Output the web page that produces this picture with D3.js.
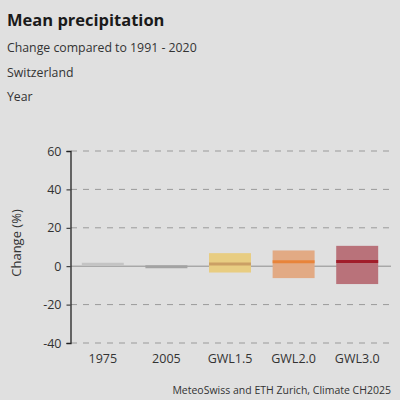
<!DOCTYPE html>
<html>
<head>
<meta charset="utf-8">
<script src="https://cdn.jsdelivr.net/npm/d3@7"></script>
<style>
  html, body { margin: 0; padding: 0; background: #e0e0e0; }
  text { font-family: "Open Sans", "Noto Sans", sans-serif; fill: #333; }
</style>
</head>
<body>
<div id="chart"></div>
<script>
var chart_width = 400
var chart_height = 400

var categories = ['1975', '2005', 'GWL1.5', 'GWL2.0', 'GWL3.0']
var medians = [1, -0.3, 1.1, 2.3, 2.4]
var lows = [null, null, -3.3, -6.2, -9.3]
var highs = [null, null, 6.8, 8.2, 10.6]
var box_colors = ['none', 'none', '#e8cd82', '#e2aa84', '#b9727a']
var line_colors = ['#c4c4c4', '#a3a3a3', '#cba065', '#e8843a', '#a11d2a']
var y_ticks = [-40, -20, 0, 20, 40, 60]

var data = categories.map(function(c, i) {
  return { cat: c, median: medians[i], low: lows[i], high: highs[i], box: box_colors[i], line: line_colors[i] }
})

var svg = d3.select('#chart')
  .append('svg')
  .attr('width', chart_width)
  .attr('height', chart_height)

svg.append('rect')
  .attr('width', chart_width)
  .attr('height', chart_height)
  .attr('fill', '#e0e0e0')

// titles
svg.append('text').attr('x', 7).attr('y', 26)
  .style('font-size', '16.5px').style('font-weight', 'bold').style('fill', '#1a1a1a')
  .text('Mean precipitation')
svg.append('text').attr('x', 7).attr('y', 52).style('font-size', '12.3px')
  .text('Change compared to 1991 - 2020')
svg.append('text').attr('x', 7).attr('y', 77).style('font-size', '12.3px')
  .text('Switzerland')
svg.append('text').attr('x', 7).attr('y', 101).style('font-size', '12.3px')
  .text('Year')

// scales
var x_scale = d3.scaleBand()
  .domain(categories)
  .range([71, 389])
  .paddingInner(0.34)
  .paddingOuter(0.17)

var y_scale = d3.scaleLinear()
  .domain([-40, 60])
  .range([343, 151])

// grid
svg.append('g')
  .selectAll('line')
  .data(y_ticks.filter(d => d !== 0))
  .enter()
  .append('line')
  .attr('x1', 71)
  .attr('x2', 391)
  .attr('y1', d => y_scale(d))
  .attr('y2', d => y_scale(d))
  .attr('stroke', '#9a9a9a')
  .attr('stroke-width', 1)
  .attr('stroke-dasharray', '6,6')

// zero line
svg.append('line')
  .attr('x1', 71)
  .attr('x2', 391)
  .attr('y1', y_scale(0))
  .attr('y2', y_scale(0))
  .attr('stroke', '#8e8e8e')
  .attr('stroke-width', 1)

// boxes
svg.append('g')
  .selectAll('rect')
  .data(data.filter(d => d.low !== null))
  .enter()
  .append('rect')
  .attr('x', d => x_scale(d.cat))
  .attr('width', x_scale.bandwidth())
  .attr('y', d => y_scale(d.high))
  .attr('height', d => y_scale(d.low) - y_scale(d.high))
  .attr('fill', d => d.box)

// median lines
svg.append('g')
  .selectAll('line')
  .data(data)
  .enter()
  .append('line')
  .attr('x1', d => x_scale(d.cat))
  .attr('x2', d => x_scale(d.cat) + x_scale.bandwidth())
  .attr('y1', d => y_scale(d.median))
  .attr('y2', d => y_scale(d.median))
  .attr('stroke', d => d.line)
  .attr('stroke-width', 3)

// y axis
var y_axis = d3.axisLeft(y_scale)
  .tickValues(y_ticks)
  .tickFormat(d => String(d))
  .tickSize(4)
  .tickPadding(5)
var gy = svg.append('g')
  .attr('transform', 'translate(70.5, 0)')
  .call(y_axis)
gy.select('.domain').attr('stroke', '#222').attr('stroke-width', 1.3)
gy.selectAll('.tick line').attr('stroke', '#222')
gy.selectAll('.tick text').style('font-size', '12.5px').style('fill', '#333')
  .style('font-family', '"Open Sans", "Noto Sans", sans-serif')

svg.append('text')
  .attr('transform', 'translate(21, 243) rotate(-90)')
  .attr('text-anchor', 'middle')
  .style('font-size', '13px')
  .text('Change (%)')

// x labels
var x_axis = d3.axisBottom(x_scale).tickSize(0).tickPadding(0)
var gx = svg.append('g')
  .attr('transform', 'translate(0, 354)')
  .call(x_axis)
gx.select('.domain').remove()
gx.selectAll('.tick text').style('font-size', '12.5px').style('fill', '#333')
  .style('font-family', '"Open Sans", "Noto Sans", sans-serif')

// source
svg.append('text')
  .attr('x', 391).attr('y', 394)
  .attr('text-anchor', 'end')
  .style('font-size', '10.5px')
  .text('MeteoSwiss and ETH Zurich, Climate CH2025')
</script>
</body>
</html>
